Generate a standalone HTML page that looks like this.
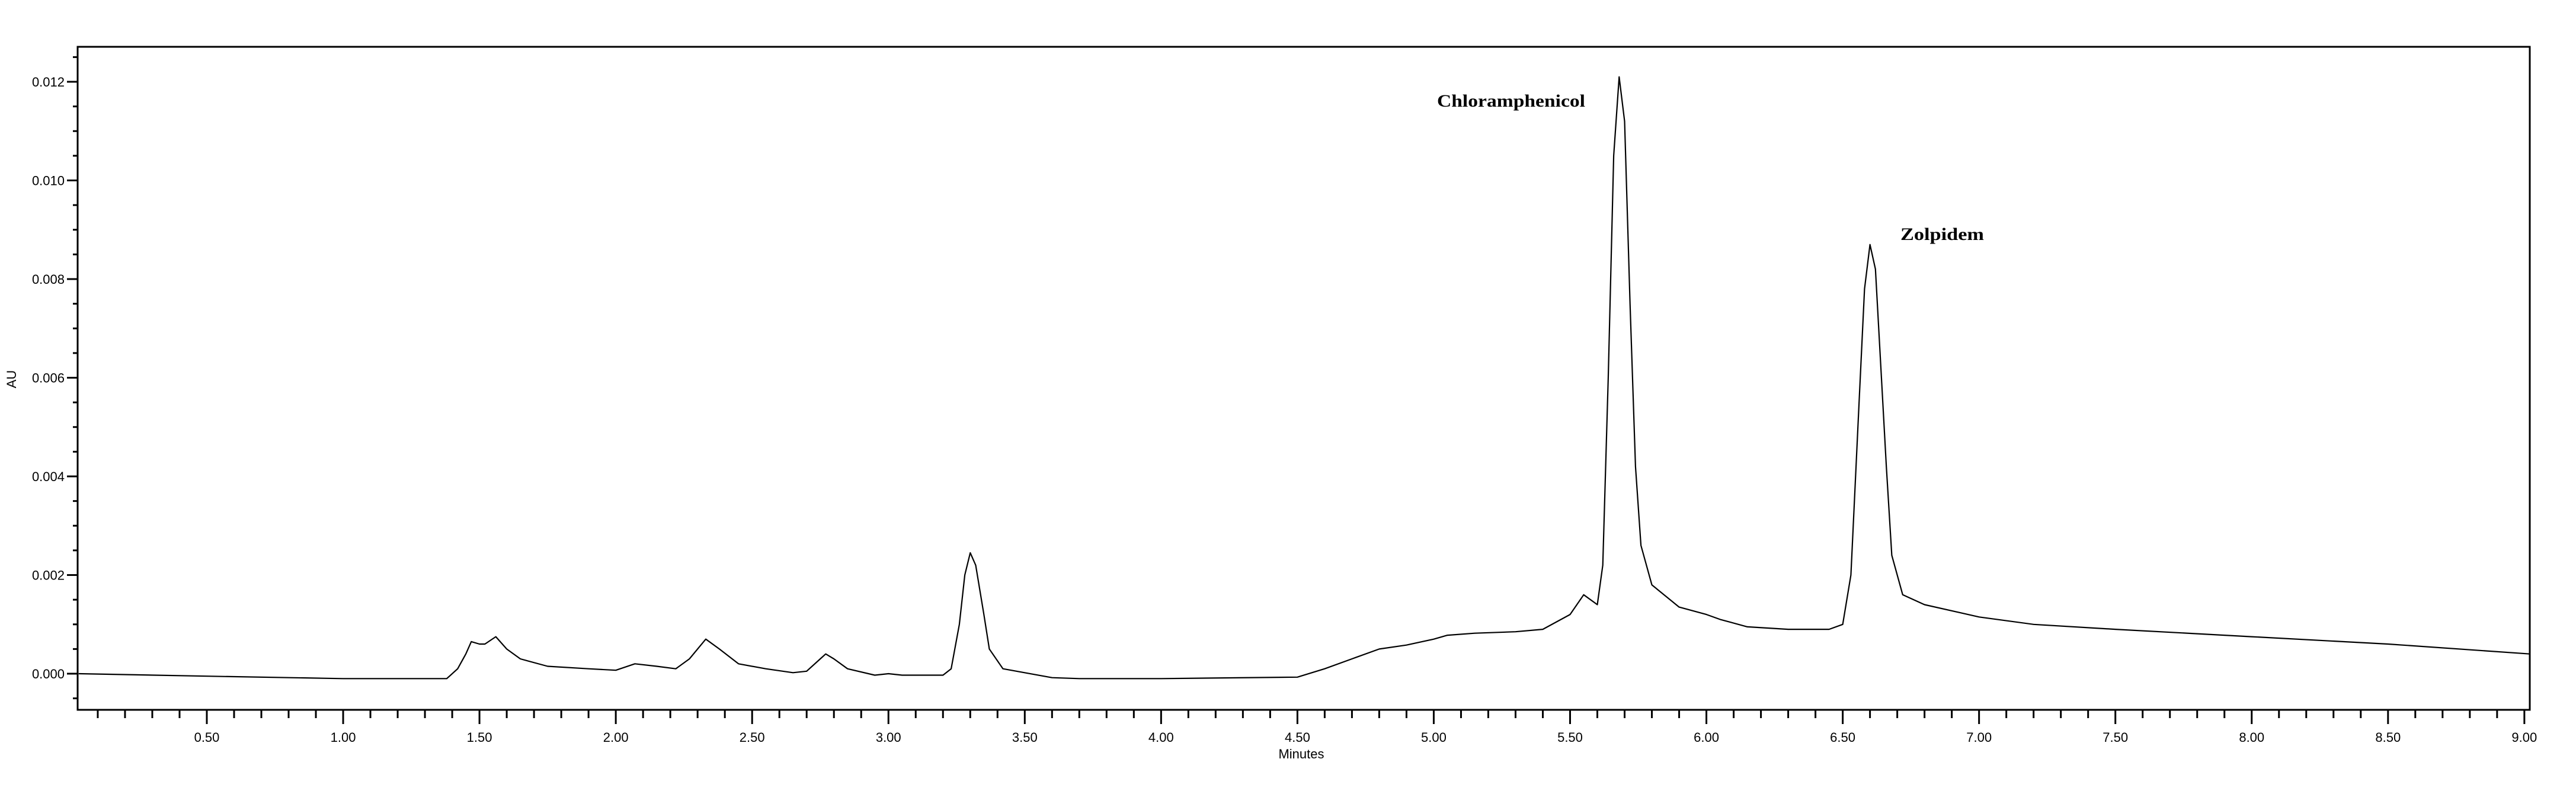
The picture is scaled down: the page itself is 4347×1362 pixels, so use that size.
<!DOCTYPE html>
<html><head><meta charset="utf-8"><style>
html,body{margin:0;padding:0;background:#fff;}
svg{display:block;}
</style></head><body>
<svg id="chart" width="4347" height="1362" viewBox="0 0 4347 1362" xmlns="http://www.w3.org/2000/svg">
<rect x="0" y="0" width="4347" height="1362" fill="#fff"/>
<g id="axes"></g>
<path id="trace" fill="none" stroke="#000" stroke-width="2.2" stroke-linejoin="round"/>
<rect x="131" y="79" width="4138" height="1119" fill="none" stroke="#000" stroke-width="3"/>
<text x="2425" y="180" font-family="Liberation Serif, serif" font-weight="bold" font-size="30" textLength="250" lengthAdjust="spacingAndGlyphs">Chloramphenicol</text>
<text x="3207" y="405" font-family="Liberation Serif, serif" font-weight="bold" font-size="30" textLength="141" lengthAdjust="spacingAndGlyphs">Zolpidem</text>
<text x="2196" y="1280" text-anchor="middle" font-family="Liberation Sans, sans-serif" font-size="22">Minutes</text>
<text x="0" y="0" transform="translate(27,640) rotate(-90)" text-anchor="middle" font-family="Liberation Sans, sans-serif" font-size="22">AU</text>
</svg>
<script>
const times = [0.03,0.5,1.0,1.38,1.42,1.45,1.47,1.50,1.52,1.56,1.60,1.65,1.75,1.9,2.0,2.07,2.15,2.22,2.27,2.33,2.38,2.45,2.55,2.65,2.70,2.75,2.77,2.80,2.85,2.95,3.00,3.05,3.2,3.23,3.26,3.28,3.30,3.32,3.35,3.37,3.42,3.6,3.7,4.0,4.5,4.6,4.7,4.8,4.9,5.0,5.05,5.15,5.3,5.4,5.5,5.55,5.6,5.62,5.64,5.66,5.68,5.70,5.72,5.74,5.76,5.8,5.9,6.0,6.05,6.15,6.3,6.45,6.5,6.53,6.56,6.58,6.60,6.62,6.64,6.66,6.68,6.72,6.8,7.0,7.2,7.5,8.0,8.5,9.02];
const absorb = [0.0,-0.00005,-0.0001,-0.0001,0.0001,0.0004,0.00065,0.0006,0.0006,0.00075,0.0005,0.0003,0.00015,0.0001,0.00007,0.0002,0.00015,0.0001,0.0003,0.0007,0.0005,0.0002,0.0001,0.00002,0.00005,0.0003,0.0004,0.0003,0.0001,-0.00003,0.0,-0.00003,-0.00003,0.0001,0.001,0.002,0.00245,0.0022,0.0012,0.0005,0.0001,-0.00008,-0.0001,-0.0001,-0.00007,0.0001,0.0003,0.0005,0.00058,0.0007,0.00078,0.00082,0.00085,0.0009,0.0012,0.0016,0.0014,0.0022,0.006,0.0105,0.0121,0.0112,0.0075,0.0042,0.0026,0.0018,0.00135,0.0012,0.0011,0.00095,0.0009,0.0009,0.001,0.002,0.0055,0.0078,0.0087,0.0082,0.0062,0.0042,0.0024,0.0016,0.0014,0.00115,0.001,0.0009,0.00075,0.0006,0.0004];
const xMajor = ["0.50","1.00","1.50","2.00","2.50","3.00","3.50","4.00","4.50","5.00","5.50","6.00","6.50","7.00","7.50","8.00","8.50","9.00"];
const yMajor = ["0.000","0.002","0.004","0.006","0.008","0.010","0.012"];

function xs(t){return 349 + (t-0.5)*460.1;}
function ys(v){return 1137 - v*83250;}
const NS="http://www.w3.org/2000/svg";
const axes=document.getElementById('axes');
function line(x1,y1,x2,y2,name){
  const l=document.createElementNS(NS,'line');
  l.setAttribute('x1',x1);l.setAttribute('y1',y1);l.setAttribute('x2',x2);l.setAttribute('y2',y2);
  l.setAttribute('stroke','#000');l.setAttribute('stroke-width','3');
  
  
  axes.appendChild(l);
}
function label(x,y,txt,anchor,name){
  const t=document.createElementNS(NS,'text');
  t.setAttribute('x',x);t.setAttribute('y',y);t.setAttribute('text-anchor',anchor);
  t.setAttribute('font-family','Liberation Sans, sans-serif');t.setAttribute('font-size','22');
  t.textContent=txt;
  
  
  axes.appendChild(t);
}
for(let i=1;i<=90;i++){
  const t=i/10, x=xs(t);
  if(x<133||x>4268) continue;
  const major = i%5===0;
  line(x,1198,x,major?1222:1212,'x-tick');
}
xMajor.forEach(s=>{label(xs(parseFloat(s)),1252,s,'middle','x-tick-label');});
for(let i=-1;i<=25;i++){
  const v=i*0.0005, y=ys(v);
  if(y<82||y>1196) continue;
  const major=i%4===0;
  line(major?113:123,y,131,y,'y-tick');
}
yMajor.forEach(s=>{label(109,ys(parseFloat(s))+8,s,'end','y-tick-label');});
let d='';
times.forEach((t,i)=>{d+=(i?'L':'M')+xs(t).toFixed(1)+','+ys(absorb[i]).toFixed(1);});
document.getElementById('trace').setAttribute('d',d);
</script>
</body></html>
